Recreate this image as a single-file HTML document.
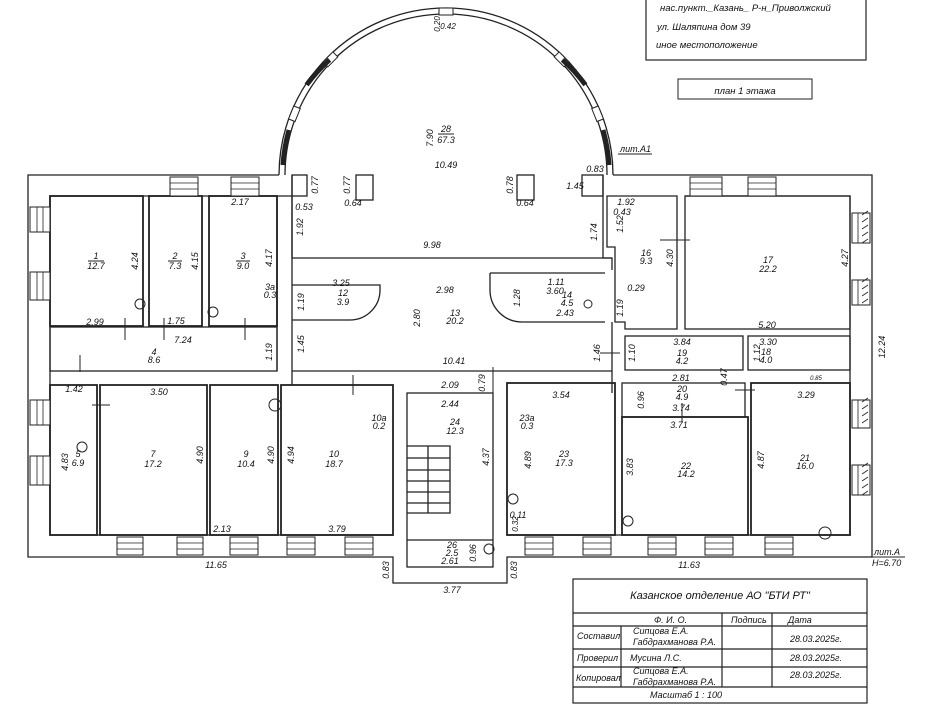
<!DOCTYPE html>
<html><head><meta charset="utf-8"><style>
html,body{margin:0;padding:0;background:#fff}
svg text{font-family:"Liberation Sans","DejaVu Sans",sans-serif;font-style:italic;fill:#111}
</style></head><body>
<svg width="926" height="710" viewBox="0 0 926 710" xmlns="http://www.w3.org/2000/svg">
<g fill="none" stroke="#222" stroke-width="1.3">
<!-- dome -->
<path d="M279 175 A167 167 0 0 1 613 175"/>
<path d="M285 175 A161 161 0 0 1 607 175"/>
<!-- outer walls -->
<path d="M279 175 H28 V557 H393 V583 H507 V557 H872 V175 H613"/>
<path d="M292 196 H50 V535 H393"/>
<path d="M507 535 H850 V196 H685"/>
<path d="M292 175 V258 M603 175 V258 H612"/>
<path d="M292 196 V258 H612 V270"/>
<!-- top-left rooms -->
<rect x="50" y="196" width="93" height="130" stroke-width="1.8"/>
<rect x="149" y="196" width="53" height="130" stroke-width="1.8"/>
<rect x="209" y="196" width="68" height="130" stroke-width="1.8"/>
<rect x="50" y="327" width="227" height="44"/>
<path d="M277 196 V371 M292 258 V385"/>
<!-- room 12 -->
<path d="M292 285 H380 V290 A30 30 0 0 1 350 320 H292"/>
<!-- room 14 -->
<path d="M490 273 H605 M490 273 V290 A32 32 0 0 0 522 322 H605"/>
<!-- hall 13 lower -->
<path d="M292 371 H612 V322 M612 371 V393"/>
<!-- bottom left rooms -->
<rect x="50" y="385" width="47" height="150" stroke-width="1.8"/>
<rect x="100" y="385" width="107" height="150" stroke-width="1.8"/>
<rect x="210" y="385" width="68" height="150" stroke-width="1.8"/>
<rect x="281" y="385" width="112" height="150" stroke-width="1.8"/>
<!-- stair -->
<rect x="407" y="393" width="86" height="174"/>
<path d="M407 540 H493 M407 446 H450 V513 H407 M407 458 H450 M407 470 H450 M407 481 H450 M407 492 H450 M407 503 H450 M428 446 V513"/>
<!-- right side -->
<rect x="507" y="383" width="108" height="152" stroke-width="1.8"/>
<rect x="622" y="383" width="123" height="34"/>
<rect x="622" y="417" width="126" height="118" stroke-width="1.8"/>
<rect x="751" y="383" width="99" height="152" stroke-width="1.8"/>
<rect x="625" y="336" width="118" height="34"/>
<rect x="748" y="336" width="102" height="34"/>
<path d="M607 196 V247 H615 V322 H625 V329 H677 V196 Z"/>
<rect x="685" y="196" width="165" height="133"/>
<!-- pillars -->
<rect x="356" y="175" width="17" height="25"/>
<rect x="517" y="175" width="17" height="25"/>
<rect x="292" y="175" width="15" height="21"/>
<rect x="582" y="175" width="21" height="21"/>
</g>
<!-- dome windows -->
<g fill="#fff" stroke="#222" stroke-width="1">
<rect x="439" y="8" width="14" height="7" transform="rotate(0 446 175)"/>
<rect x="439" y="8" width="14" height="7" transform="rotate(-45 446 175)"/>
<rect x="439" y="8" width="14" height="7" transform="rotate(45 446 175)"/>
<rect x="439" y="8" width="14" height="7" transform="rotate(-68 446 175)"/>
<rect x="439" y="8" width="14" height="7" transform="rotate(68 446 175)"/>
</g>
<g fill="none" stroke="#222" stroke-width="5">
<path d="M315 73 A164 164 0 0 1 340 50" transform="rotate(-5 446 175)"/>
<path d="M577 73 A164 164 0 0 0 552 50" transform="rotate(5 446 175)"/>
<path d="M289 130 A164 164 0 0 0 283 165"/>
<path d="M603 130 A164 164 0 0 1 609 165"/>
</g>
<!-- windows -->
<g fill="#fff" stroke="#222" stroke-width="1">
<rect x="170" y="177" width="28" height="19"/><rect x="231" y="177" width="28" height="19"/>
<rect x="690" y="177" width="32" height="19"/><rect x="748" y="177" width="28" height="19"/>
<rect x="30" y="207" width="20" height="25"/><rect x="30" y="272" width="20" height="28"/>
<rect x="30" y="400" width="20" height="25"/><rect x="30" y="456" width="20" height="29"/>
<rect x="117" y="537" width="26" height="18"/><rect x="177" y="537" width="26" height="18"/>
<rect x="230" y="537" width="28" height="18"/><rect x="287" y="537" width="28" height="18"/>
<rect x="345" y="537" width="28" height="18"/><rect x="525" y="537" width="28" height="18"/>
<rect x="583" y="537" width="28" height="18"/><rect x="648" y="537" width="28" height="18"/>
<rect x="705" y="537" width="28" height="18"/><rect x="765" y="537" width="28" height="18"/>
</g>
<g stroke="#222" stroke-width="0.8">
<path d="M170 183 H198 M170 189 H198 M231 183 H259 M231 189 H259 M690 183 H722 M690 189 H722 M748 183 H776 M748 189 H776"/>
<path d="M37 207 V232 M43 207 V232 M37 272 V300 M43 272 V300 M37 400 V425 M43 400 V425 M37 456 V485 M43 456 V485"/>
<path d="M117 543 H143 M117 549 H143 M177 543 H203 M177 549 H203 M230 543 H258 M230 549 H258 M287 543 H315 M287 549 H315 M345 543 H373 M345 549 H373 M525 543 H553 M525 549 H553 M583 543 H611 M583 549 H611 M648 543 H676 M648 549 H676 M705 543 H733 M705 549 H733 M765 543 H793 M765 549 H793"/>
</g>
<g fill="#fff" stroke="#222" stroke-width="1">
<rect x="852" y="213" width="18" height="30"/><rect x="852" y="280" width="18" height="25"/>
<rect x="852" y="400" width="18" height="28"/><rect x="852" y="465" width="18" height="30"/>
</g>
<g stroke="#222" stroke-width="0.8">
<path d="M858 213 V243 M858 280 V305 M858 400 V428 M858 465 V495"/>
<path d="M862 215 l6 -4 M862 222 l6 -4 M862 229 l6 -4 M862 236 l6 -4 M862 243 l6 -4 M862 282 l6 -4 M862 289 l6 -4 M862 296 l6 -4 M862 303 l6 -4 M862 402 l6 -4 M862 409 l6 -4 M862 416 l6 -4 M862 423 l6 -4 M862 467 l6 -4 M862 474 l6 -4 M862 481 l6 -4 M862 488 l6 -4 M862 495 l6 -4"/>
</g>
<!-- room labels -->
<g font-size="9" text-anchor="middle">
<text x="96" y="259">1</text><line x1="88" y1="261" x2="104" y2="261" stroke="#222"/><text x="96" y="269">12.7</text>
<text x="175" y="259">2</text><line x1="168" y1="261" x2="182" y2="261" stroke="#222"/><text x="175" y="269">7.3</text>
<text x="243" y="259">3</text><line x1="236" y1="261" x2="250" y2="261" stroke="#222"/><text x="243" y="269">9.0</text>
<text x="154" y="355">4</text><text x="154" y="363">8.6</text>
<text x="78" y="457">5</text><text x="78" y="466">6.9</text>
<text x="153" y="457">7</text><text x="153" y="467">17.2</text>
<text x="246" y="457">9</text><text x="246" y="467">10.4</text>
<text x="334" y="457">10</text><text x="334" y="467">18.7</text>
<text x="343" y="296">12</text><text x="343" y="305">3.9</text>
<text x="455" y="316">13</text><text x="455" y="324">20.2</text>
<text x="567" y="298">14</text><text x="567" y="306">4.5</text>
<text x="646" y="256">16</text><text x="646" y="264">9.3</text>
<text x="768" y="263">17</text><text x="768" y="272">22.2</text>
<text x="766" y="355">18</text><text x="766" y="363">4.0</text>
<text x="682" y="356">19</text><text x="682" y="364">4.2</text>
<text x="682" y="392">20</text><text x="682" y="400">4.9</text>
<text x="805" y="461">21</text><text x="805" y="469">16.0</text>
<text x="686" y="469">22</text><text x="686" y="477">14.2</text>
<text x="564" y="457">23</text><text x="564" y="466">17.3</text>
<text x="455" y="425">24</text><text x="455" y="434">12.3</text>
<text x="452" y="548">26</text><text x="452" y="556">2.5</text><text x="450" y="564">2.61</text>
<text x="446" y="132">28</text><line x1="438" y1="134" x2="454" y2="134" stroke="#222"/><text x="446" y="143">67.3</text>
<text x="270" y="290">3a</text><text x="270" y="298">0.3</text>
<text x="379" y="421">10a</text><text x="379" y="429">0.2</text>
<text x="527" y="421">23a</text><text x="527" y="429">0.3</text>
</g>
<!-- dimensions -->
<g font-size="9" text-anchor="middle">
<text x="446" y="168">10.49</text><text x="432" y="248">9.98</text>
<text x="575" y="189">1.45</text><text x="304" y="210">0.53</text><text x="353" y="206">0.64</text><text x="525" y="206">0.64</text>
<text x="240" y="205">2.17</text><text x="626" y="205">1.92</text><text x="622" y="215">0.43</text><text x="595" y="172">0.83</text>
<text x="95" y="325">2.99</text><text x="176" y="324">1.75</text><text x="183" y="343">7.24</text>
<text x="341" y="286">3.25</text><text x="445" y="293">2.98</text><text x="555" y="294">3.60</text><text x="565" y="316">2.43</text>
<text x="556" y="285">1.11</text><text x="636" y="291">0.29</text>
<text x="454" y="364">10.41</text><text x="450" y="388">2.09</text><text x="450" y="407">2.44</text>
<text x="74" y="392">1.42</text><text x="159" y="395">3.50</text><text x="561" y="398">3.54</text>
<text x="682" y="345">3.84</text><text x="768" y="345">3.30</text><text x="767" y="328">5.20</text>
<text x="681" y="381">2.81</text><text x="681" y="411">3.74</text><text x="679" y="428">3.71</text><text x="806" y="398">3.29</text>
<text x="222" y="532">2.13</text><text x="337" y="532">3.79</text>
<text x="216" y="568">11.65</text><text x="689" y="568">11.63</text><text x="452" y="593">3.77</text>
<text x="518" y="518">0.11</text><text x="816" y="380" font-size="6">0.85</text>
</g>
<g font-size="9" text-anchor="middle">
<text transform="translate(138,261) rotate(-90)">4.24</text>
<text transform="translate(198,261) rotate(-90)">4.15</text>
<text transform="translate(272,258) rotate(-90)">4.17</text>
<text transform="translate(272,352) rotate(-90)">1.19</text>
<text transform="translate(304,302) rotate(-90)">1.19</text>
<text transform="translate(304,344) rotate(-90)">1.45</text>
<text transform="translate(303,227) rotate(-90)">1.92</text>
<text transform="translate(318,185) rotate(-90)">0.77</text>
<text transform="translate(350,185) rotate(-90)">0.77</text>
<text transform="translate(513,185) rotate(-90)">0.78</text>
<text transform="translate(420,318) rotate(-90)">2.80</text>
<text transform="translate(520,298) rotate(-90)">1.28</text>
<text transform="translate(597,232) rotate(-90)">1.74</text>
<text transform="translate(623,308) rotate(-90)">1.19</text>
<text transform="translate(623,224) rotate(-90)">1.52</text>
<text transform="translate(673,258) rotate(-90)">4.30</text>
<text transform="translate(848,258) rotate(-90)">4.27</text>
<text transform="translate(885,347) rotate(-90)">12.24</text>
<text transform="translate(600,353) rotate(-90)">1.46</text>
<text transform="translate(635,353) rotate(-90)">1.10</text>
<text transform="translate(760,353) rotate(-90)">1.12</text>
<text transform="translate(727,377) rotate(-90)">0.47</text>
<text transform="translate(485,383) rotate(-90)">0.79</text>
<text transform="translate(644,400) rotate(-90)">0.96</text>
<text transform="translate(68,462) rotate(-90)">4.83</text>
<text transform="translate(203,455) rotate(-90)">4.90</text>
<text transform="translate(274,455) rotate(-90)">4.90</text>
<text transform="translate(294,455) rotate(-90)">4.94</text>
<text transform="translate(489,457) rotate(-90)">4.37</text>
<text transform="translate(531,460) rotate(-90)">4.89</text>
<text transform="translate(633,467) rotate(-90)">3.83</text>
<text transform="translate(764,460) rotate(-90)">4.87</text>
<text transform="translate(476,553) rotate(-90)">0.96</text>
<text transform="translate(389,570) rotate(-90)">0.83</text>
<text transform="translate(517,570) rotate(-90)">0.83</text>
<text transform="translate(518,524) rotate(-90)" font-size="8">0.32</text>
<text transform="translate(433,138) rotate(-90)">7.90</text>
<text transform="translate(440,24) rotate(-90)" font-size="8">0.20</text>
<text x="448" y="29" font-size="8">0.42</text>
</g>
<!-- markers -->
<g fill="none" stroke="#222" stroke-width="1">
<circle cx="140" cy="304" r="5"/><circle cx="213" cy="312" r="5"/><circle cx="275" cy="405" r="6"/>
<circle cx="82" cy="447" r="5"/><circle cx="513" cy="499" r="5"/><circle cx="628" cy="521" r="5"/>
<circle cx="825" cy="533" r="6"/><circle cx="489" cy="549" r="5"/><circle cx="588" cy="304" r="4"/>
<path d="M125 318 V340 M164 318 V340 M245 318 V340 M353 375 V395 M493 367 V395 M600 353 H620 M682 403 V422 M735 390 H755 M660 240 H690 M92 405 H110 M80 355 V372"/>
</g>
<!-- labels -->
<g font-size="9">
<text x="620" y="152">лит.А1</text><line x1="618" y1="154" x2="652" y2="154" stroke="#222"/>
<text x="874" y="555">лит.А</text><line x1="872" y1="557" x2="905" y2="557" stroke="#222"/>
<text x="872" y="566">Н=6.70</text>
</g>
<!-- top right box -->
<rect x="646" y="-2" width="220" height="62" fill="none" stroke="#222" stroke-width="1.2"/>
<g font-size="9.5">
<text x="660" y="11">нас.пункт._Казань_  Р-н_Приволжский</text>
<text x="657" y="30">ул. Шаляпина   дом  39</text>
<text x="656" y="48">иное местоположение</text>
</g>
<rect x="678" y="79" width="134" height="20" fill="none" stroke="#222" stroke-width="1"/>
<text x="745" y="94" font-size="9.5" text-anchor="middle">план 1 этажа</text>
<!-- table -->
<g fill="none" stroke="#222" stroke-width="1.2">
<rect x="573" y="579" width="294" height="124"/>
<path d="M573 613 H867 M573 626 H867 M573 649 H867 M573 667 H867 M573 687 H867 M621 626 V687 M722 613 V687 M772 613 V687"/>
</g>
<g font-size="9">
<text x="720" y="599" font-size="11" text-anchor="middle">Казанское отделение АО "БТИ РТ"</text>
<text x="654" y="623">Ф.  И.  О.</text><text x="731" y="623">Подпись</text><text x="788" y="623">Дата</text>
<text x="577" y="639">Составил</text><text x="633" y="634">Сипцова Е.А.</text><text x="633" y="645">Габдрахманова Р.А.</text><text x="790" y="642">28.03.2025г.</text>
<text x="577" y="661">Проверил</text><text x="630" y="661">Мусина Л.С.</text><text x="790" y="661">28.03.2025г.</text>
<text x="576" y="681">Копировал</text><text x="633" y="674">Сипцова Е.А.</text><text x="633" y="685">Габдрахманова Р.А.</text><text x="790" y="678">28.03.2025г.</text>
<text x="650" y="698">Масштаб  1 :  100</text>
</g>
</svg>
</body></html>
